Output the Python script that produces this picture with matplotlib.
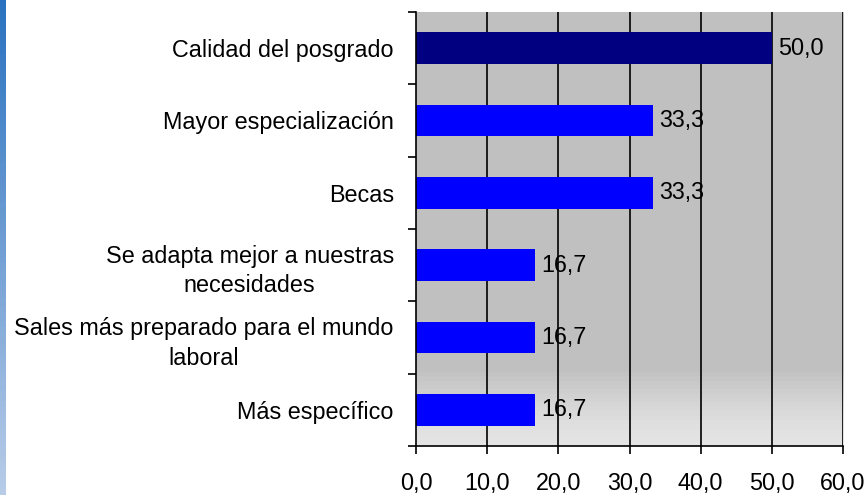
import matplotlib

matplotlib.use("Agg")

import matplotlib.pyplot as plt
import numpy as np
from matplotlib.colors import LinearSegmentedColormap

categories = [
    "Calidad del posgrado",
    "Mayor especialización",
    "Becas",
    "Se adapta mejor a nuestras\nnecesidades",
    "Sales más preparado para el mundo\nlaboral",
    "Más específico",
]
values = [50.0, 33.3, 33.3, 16.7, 16.7, 16.7]
bar_colors = ["#000080", "#0000FF", "#0000FF", "#0000FF", "#0000FF", "#0000FF"]
xticks = [0, 10, 20, 30, 40, 50, 60]

plt.rcParams.update({"font.family": ["Liberation Sans", "DejaVu Sans"], "font.size": 16.8})

fig = plt.figure(figsize=(8.64, 4.95), dpi=100)
ax = fig.add_axes([0.4815, 0.099, 0.4943, 0.8768])

# blue stripe on the left edge of the slide
stripe = fig.add_axes([0, 0, 0.0065, 1])
stripe.imshow(np.linspace(0, 1, 100).reshape(-1, 1), aspect="auto",
              cmap=LinearSegmentedColormap.from_list("s", ["#2A72C0", "#B8CCE8"]))
stripe.axis("off")

n = len(categories)
y = np.arange(n)

# gray background with a light fade at the bottom
grad = np.ones((100, 1))
grad[82:, 0] = np.linspace(1, 0, 18) ** 1.5
bg = LinearSegmentedColormap.from_list("bg", ["#E4E4E4", "#C0C0C0"])
ax.imshow(grad, aspect="auto", cmap=bg, extent=(0, 60, n - 0.5, -0.5), zorder=0)

for xv in xticks[1:]:
    ax.axvline(xv, color="black", linewidth=1.2, zorder=1)

ax.barh(y, values, height=0.44, color=bar_colors, zorder=2)
for yi, v in zip(y, values):
    ax.text(v + 0.9, yi, f"{v:.1f}".replace(".", ","), va="center", ha="left", zorder=3)

ax.set_xlim(0, 60)
ax.set_ylim(n - 0.5, -0.5)
ax.set_xticks(xticks)
ax.set_xticklabels([f"{v:.1f}".replace(".", ",") for v in xticks])
ax.set_yticks(y)
ax.set_yticklabels(categories, ha="right", multialignment="center", linespacing=1.38)
ax.set_yticks(np.arange(n + 1) - 0.5, minor=True)
ax.tick_params(axis="y", which="major", length=0, pad=16)
ax.tick_params(axis="y", which="minor", length=6, width=1.2, direction="out")
ax.tick_params(axis="x", length=6, width=1.2, pad=12.5)

for side in ["top", "right"]:
    ax.spines[side].set_visible(False)
ax.spines["left"].set_linewidth(1.2)
ax.spines["bottom"].set_linewidth(1.2)

fig.savefig("out.png", dpi=100)
